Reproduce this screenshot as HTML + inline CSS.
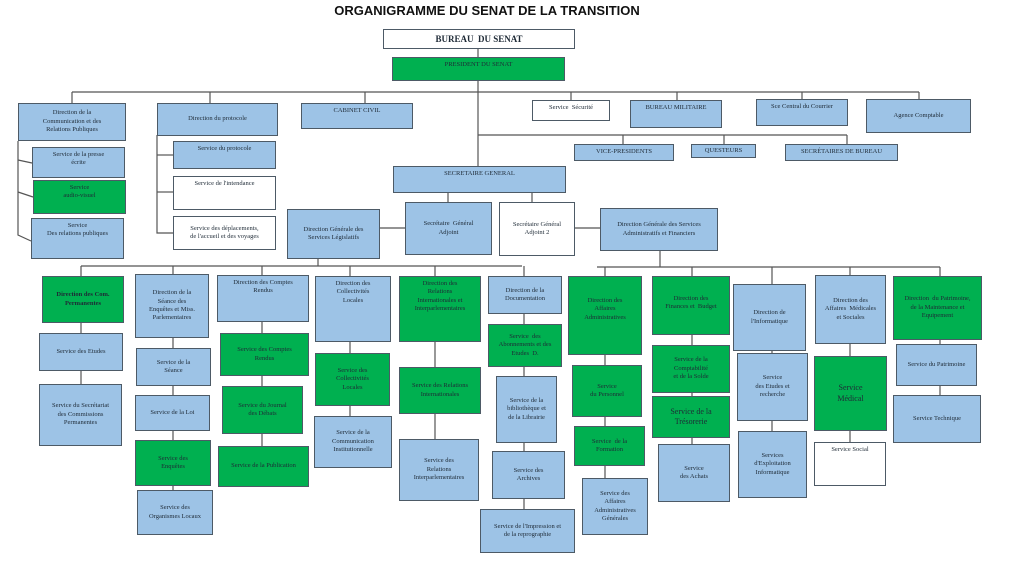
<!DOCTYPE html>
<html><head><meta charset="utf-8"><style>
body{margin:0;width:1024px;height:576px;background:#fff;position:relative;overflow:hidden}
.b{position:absolute;box-sizing:border-box;display:flex;align-items:center;justify-content:center;text-align:center;border:1px solid #4d5a66;font:6.5px/1.3 "Liberation Serif",serif;color:#1e2a36;padding:1px}
.u{background:#9dc3e6}.g{background:#00b050}.w{background:#fff}
.t{align-items:flex-start;padding-top:3px}
svg{position:absolute;left:0;top:0}
h1{position:absolute;left:0;width:974px;top:3px;margin:0;text-align:center;font:bold 13px "Liberation Sans",sans-serif;color:#111}
</style></head><body>
<svg width="1024" height="576" stroke="#555" stroke-width="1.2" fill="none">
<line x1="478" y1="48" x2="478" y2="166"/>
<line x1="72" y1="92" x2="919" y2="92"/>
<line x1="72" y1="92" x2="72" y2="103"/><line x1="210" y1="92" x2="210" y2="103"/><line x1="365" y1="92" x2="365" y2="103"/>
<line x1="571" y1="92" x2="571" y2="100"/><line x1="677" y1="92" x2="677" y2="100"/><line x1="802" y1="92" x2="802" y2="99"/><line x1="919" y1="92" x2="919" y2="99"/>
<line x1="478" y1="135" x2="847" y2="135"/>
<line x1="623" y1="135" x2="623" y2="144"/><line x1="724" y1="135" x2="724" y2="144"/><line x1="847" y1="135" x2="847" y2="144"/>
<polyline points="18,141 18,235 31,241"/><line x1="18" y1="160" x2="32" y2="163"/><line x1="18" y1="192" x2="33" y2="197"/>
<polyline points="157,135 157,233 173,233"/><line x1="157" y1="155" x2="173" y2="155"/><line x1="157" y1="192" x2="173" y2="192"/>
<line x1="448" y1="192" x2="448" y2="202"/><line x1="532" y1="192" x2="532" y2="202"/>
<line x1="380" y1="228" x2="405" y2="228"/><line x1="575" y1="228" x2="600" y2="228"/>
<line x1="318" y1="258" x2="318" y2="266"/><line x1="81" y1="266" x2="522" y2="266"/>
<line x1="660" y1="250" x2="660" y2="267"/><line x1="597" y1="267" x2="940" y2="267"/>
<line x1="81" y1="266" x2="81" y2="384"/><line x1="173" y1="266" x2="173" y2="490"/><line x1="262" y1="266" x2="262" y2="446"/>
<line x1="350" y1="266" x2="350" y2="416"/><line x1="435" y1="266" x2="435" y2="439"/><line x1="524" y1="266" x2="524" y2="509"/>
<line x1="605" y1="267" x2="605" y2="478"/><line x1="692" y1="267" x2="692" y2="444"/><line x1="772" y1="267" x2="772" y2="431"/>
<line x1="850" y1="267" x2="850" y2="442"/><line x1="940" y1="267" x2="940" y2="395"/>
</svg>
<h1>ORGANIGRAMME DU SENAT DE LA TRANSITION</h1>
<div class="b w" style="left:383px;top:29px;width:192px;height:20px;font:bold 9px 'Liberation Serif',serif">BUREAU&nbsp; DU SENAT</div>
<div class="b g t" style="left:392px;top:57px;width:173px;height:24px">PRESIDENT DU SENAT</div>
<div class="b u" style="left:18px;top:103px;width:108px;height:38px">Direction de la<br>Communication et des<br>Relations Publiques</div>
<div class="b u" style="left:157px;top:103px;width:121px;height:33px">Direction du protocole</div>
<div class="b u t" style="left:301px;top:103px;width:112px;height:26px">CABINET CIVIL</div>
<div class="b w t" style="left:532px;top:100px;width:78px;height:21px">Service&nbsp; Sécurité</div>
<div class="b u t" style="left:630px;top:100px;width:92px;height:28px">BUREAU MILITAIRE</div>
<div class="b u t" style="left:756px;top:99px;width:92px;height:27px">Sce Central du Courrier</div>
<div class="b u" style="left:866px;top:99px;width:105px;height:34px">Agence Comptable</div>
<div class="b u t" style="left:32px;top:147px;width:93px;height:31px">Service de la presse<br>écrite</div>
<div class="b g t" style="left:33px;top:180px;width:93px;height:34px">Service<br>audio-visuel</div>
<div class="b u t" style="left:31px;top:218px;width:93px;height:41px">Service<br>Des relations publiques</div>
<div class="b u t" style="left:173px;top:141px;width:103px;height:28px">Service du protocole</div>
<div class="b w t" style="left:173px;top:176px;width:103px;height:34px">Service de l'intendance</div>
<div class="b w" style="left:173px;top:216px;width:103px;height:34px">Service des déplacements,<br>de l'accueil et des voyages</div>
<div class="b u" style="left:574px;top:144px;width:100px;height:17px">VICE-PRESIDENTS</div>
<div class="b u" style="left:691px;top:144px;width:65px;height:14px">QUESTEURS</div>
<div class="b u" style="left:785px;top:144px;width:113px;height:17px">SECRÉTAIRES DE BUREAU</div>
<div class="b u t" style="left:393px;top:166px;width:173px;height:27px">SECRETAIRE GENERAL</div>
<div class="b u" style="left:287px;top:209px;width:93px;height:50px">Direction Générale des<br>Services Législatifs</div>
<div class="b u" style="left:405px;top:202px;width:87px;height:53px">Secrétaire&nbsp; Général<br>Adjoint</div>
<div class="b w" style="left:499px;top:202px;width:76px;height:54px">Secrétaire Général<br>Adjoint 2</div>
<div class="b u" style="left:600px;top:208px;width:118px;height:43px">Direction Générale des Services<br>Administratifs et Financiers</div>

<div class="b g" style="left:42px;top:276px;width:82px;height:47px;font-weight:bold">Direction des Com.<br>Permanentes</div>
<div class="b u" style="left:39px;top:333px;width:84px;height:38px">Service des Etudes</div>
<div class="b u" style="left:39px;top:384px;width:83px;height:62px">Service du Secrétariat<br>des Commissions<br>Permanentes</div>
<div class="b u" style="left:135px;top:274px;width:74px;height:64px">Direction de la<br>Séance des<br>Enquêtes et Miss.<br>Parlementaires</div>
<div class="b u" style="left:136px;top:348px;width:75px;height:38px">Service de la<br>Séance</div>
<div class="b u" style="left:135px;top:395px;width:75px;height:36px">Service de la Loi</div>
<div class="b g" style="left:135px;top:440px;width:76px;height:46px">Service des<br>Enquêtes</div>
<div class="b u" style="left:137px;top:490px;width:76px;height:45px">Service des<br>Organismes Locaux</div>
<div class="b u t" style="left:217px;top:275px;width:92px;height:47px">Direction des Comptes<br>Rendus</div>
<div class="b g" style="left:220px;top:333px;width:89px;height:43px">Service des Comptes<br>Rendus</div>
<div class="b g" style="left:222px;top:386px;width:81px;height:48px">Service du Journal<br>des Débats</div>
<div class="b g" style="left:218px;top:446px;width:91px;height:41px">Service de la Publication</div>
<div class="b u t" style="left:315px;top:276px;width:76px;height:66px">Direction des<br>Collectivités<br>Locales</div>
<div class="b g" style="left:315px;top:353px;width:75px;height:53px">Service des<br>Collectivités<br>Locales</div>
<div class="b u" style="left:314px;top:416px;width:78px;height:52px">Service de la<br>Communication<br>Institutionnelle</div>
<div class="b g t" style="left:399px;top:276px;width:82px;height:66px">Direction des<br>Relations<br>Internationales et<br>Interparlementaires</div>
<div class="b g" style="left:399px;top:367px;width:82px;height:47px">Service des Relations<br>Internationales</div>
<div class="b u" style="left:399px;top:439px;width:80px;height:62px">Service des<br>Relations<br>Interparlementaires</div>
<div class="b u" style="left:488px;top:276px;width:74px;height:38px">Direction de la<br>Documentation</div>
<div class="b g" style="left:488px;top:324px;width:74px;height:43px">Service&nbsp; des<br>Abonnements et des<br>Etudes&nbsp; D.</div>
<div class="b u" style="left:496px;top:376px;width:61px;height:67px">Service de la<br>bibliothèque et<br>de la Librairie</div>
<div class="b u" style="left:492px;top:451px;width:73px;height:48px">Service des<br>Archives</div>
<div class="b u" style="left:480px;top:509px;width:95px;height:44px">Service de l'Impression et<br>de la reprographie</div>
<div class="b g t" style="left:568px;top:276px;width:74px;height:79px;padding-top:20px">Direction des<br>Affaires<br>Administratives</div>
<div class="b g" style="left:572px;top:365px;width:70px;height:52px">Service<br>du Personnel</div>
<div class="b g" style="left:574px;top:426px;width:71px;height:40px">Service&nbsp; de la<br>Formation</div>
<div class="b u" style="left:582px;top:478px;width:66px;height:57px">Service des<br>Affaires<br>Administratives<br>Générales</div>
<div class="b g t" style="left:652px;top:276px;width:78px;height:59px;padding-top:18px">Direction des<br>Finances et&nbsp; Budget</div>
<div class="b g" style="left:652px;top:345px;width:78px;height:48px">Service de la<br>Comptabilité<br>et de la Solde</div>
<div class="b g" style="left:652px;top:396px;width:78px;height:42px;font-size:8px">Service de la<br>Trésorerie</div>
<div class="b u" style="left:658px;top:444px;width:72px;height:58px">Service<br>des Achats</div>
<div class="b u" style="left:733px;top:284px;width:73px;height:67px">Direction de<br>l'Informatique</div>
<div class="b u" style="left:737px;top:353px;width:71px;height:68px">Service<br>des Etudes et<br>recherche</div>
<div class="b u" style="left:738px;top:431px;width:69px;height:67px">Services<br>d'Exploitation<br>Informatique</div>
<div class="b u" style="left:815px;top:275px;width:71px;height:69px">Direction des<br>Affaires&nbsp; Médicales<br>et Sociales</div>
<div class="b g" style="left:814px;top:356px;width:73px;height:75px;font-size:8px">Service<br>Médical</div>
<div class="b w t" style="left:814px;top:442px;width:72px;height:44px">Service Social</div>
<div class="b g" style="left:893px;top:276px;width:89px;height:64px">Direction&nbsp; du Patrimoine,<br>de la Maintenance et<br>Equipement</div>
<div class="b u" style="left:896px;top:344px;width:81px;height:42px">Service du Patrimoine</div>
<div class="b u" style="left:893px;top:395px;width:88px;height:48px">Service Technique</div>
</body></html>
